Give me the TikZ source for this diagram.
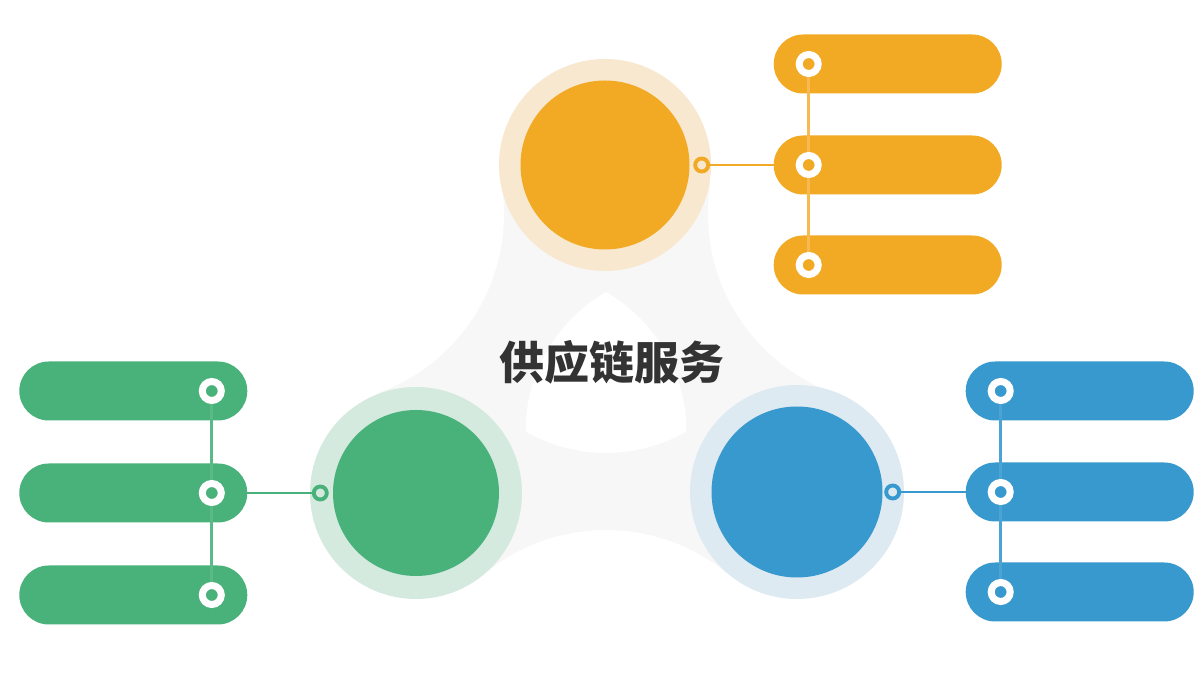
\documentclass[tikz,border=0pt]{standalone}
\usepackage{fontspec}
\usepackage{xcolor}
\usepackage{tikz}
\usetikzlibrary{positioning, calc}
\newfontfamily\cjk{Noto Sans CJK SC}
\definecolor{oranje}{HTML}{F2AA24}
\definecolor{oranjelicht}{HTML}{F8E8D0}
\definecolor{groen}{HTML}{49B17A}
\definecolor{groenlicht}{HTML}{D4EADF}
\definecolor{blauw}{HTML}{3799CE}
\definecolor{blauwlicht}{HTML}{DEEAF2}
\definecolor{grijs}{HTML}{F7F7F7}
\definecolor{tekst}{HTML}{333333}

\begin{document}
\begin{tikzpicture}[
  schijf/.style={circle, inner sep=0pt, minimum size=2.12cm},
  kern/.style={circle, inner sep=0pt, minimum size=1.69cm},
  oog/.style={circle, draw=#1, line width=1.1pt, inner sep=0pt, outer sep=0pt, minimum size=0.13cm},
  pil/.style={fill=#1, rounded corners=0.295cm, minimum width=2.28cm, minimum height=0.59cm, inner sep=0pt, outer sep=0pt},
  stip/.style={circle, fill=#1, draw=white, line width=0.07cm, inner sep=0pt, minimum size=0.19cm},
  lijn/.style={draw=#1, line width=0.75pt},
]
  \clip (0,0) rectangle (12,6.75);
  \fill[white] (0,0) rectangle (12,6.75);
  % grijs vlak tussen de drie schijven
  \fill[grijs] (6.05,5.10) -- (3.14,4.61) -- (4.16,1.82) -- (6.06,-0.45) -- (7.96,1.82) -- (8.98,4.61) -- cycle;
  \fill[white] (3.14,4.61) circle (1.90) (6.06,-0.45) circle (1.90) (8.98,4.61) circle (1.90);
  % witte boogdriehoek
  \def\s{1.61}
  \coordinate (A) at (6.06,3.83);
  \coordinate (B) at (5.255,2.436);
  \fill[white] (B) arc[start angle=240, end angle=300, radius=\s]
    arc[start angle=0, end angle=60, radius=\s]
    arc[start angle=120, end angle=180, radius=\s] -- cycle;
  % schijven
  \node[schijf, fill=oranjelicht] (boven) at (6.05,5.10) {};
  \node[kern, fill=oranje] (bovenkern) at (boven) {};
  \node[schijf, fill=groenlicht] (links) at (4.16,1.82) {};
  \node[kern, fill=groen, minimum size=1.66cm] (linkskern) at (links) {};
  \node[schijf, fill=blauwlicht, minimum size=2.14cm] (rechts) at (7.97,1.83) {};
  \node[kern, fill=blauw, minimum size=1.71cm] (rechtskern) at (rechts) {};
  % titel
  \node[text=tekst, font=\cjk\bfseries\fontsize{12.8}{15}\selectfont] (titel) at (6.12,3.13) {供应链服务};
  % oogjes
  \node[oog=oranje] (bovenoog) at ([xshift=-0.1cm]boven.east) {};
  \node[oog=groen] (linksoog) at ([xshift=0.11cm]links.west) {};
  \node[oog=blauw] (rechtsoog) at ([xshift=-0.12cm]rechts.east) {};
  % pillen
  \node[pil=oranje, right=0.655cm of bovenoog] (o2) {};
  \node[pil=oranje, above=0.42cm of o2] (o1) {};
  \node[pil=oranje, below=0.41cm of o2] (o3) {};
  \node[pil=groen, left=0.665cm of linksoog] (g2) {};
  \node[pil=groen, above=0.43cm of g2] (g1) {};
  \node[pil=groen, below=0.43cm of g2] (g3) {};
  \node[pil=blauw, right=0.665cm of rechtsoog] (b2) {};
  \node[pil=blauw, above=0.42cm of b2] (b1) {};
  \node[pil=blauw, below=0.41cm of b2] (b3) {};
  % stippen
  \foreach \i in {1,2,3} {
    \node[stip=oranje] (os\i) at ([xshift=0.35cm]o\i.west) {};
    \node[stip=groen] (gs\i) at ([xshift=-0.355cm]g\i.east) {};
    \node[stip=blauw] (bs\i) at ([xshift=0.35cm]b\i.west) {};
  }
  % verbindingen
  \draw[lijn=oranje!80!white] (os1) -- (os2) (os2) -- (os3);
  \draw[lijn=groen!90!white] (gs1) -- (gs2) (gs2) -- (gs3);
  \draw[lijn=blauw!90!white] (bs1) -- (bs2) (bs2) -- (bs3);
  \draw[lijn=oranje] (bovenoog) -- (o2);
  \draw[lijn=groen] (linksoog) -- (g2);
  \draw[lijn=blauw] (rechtsoog) -- (b2);
\end{tikzpicture}
\end{document}
